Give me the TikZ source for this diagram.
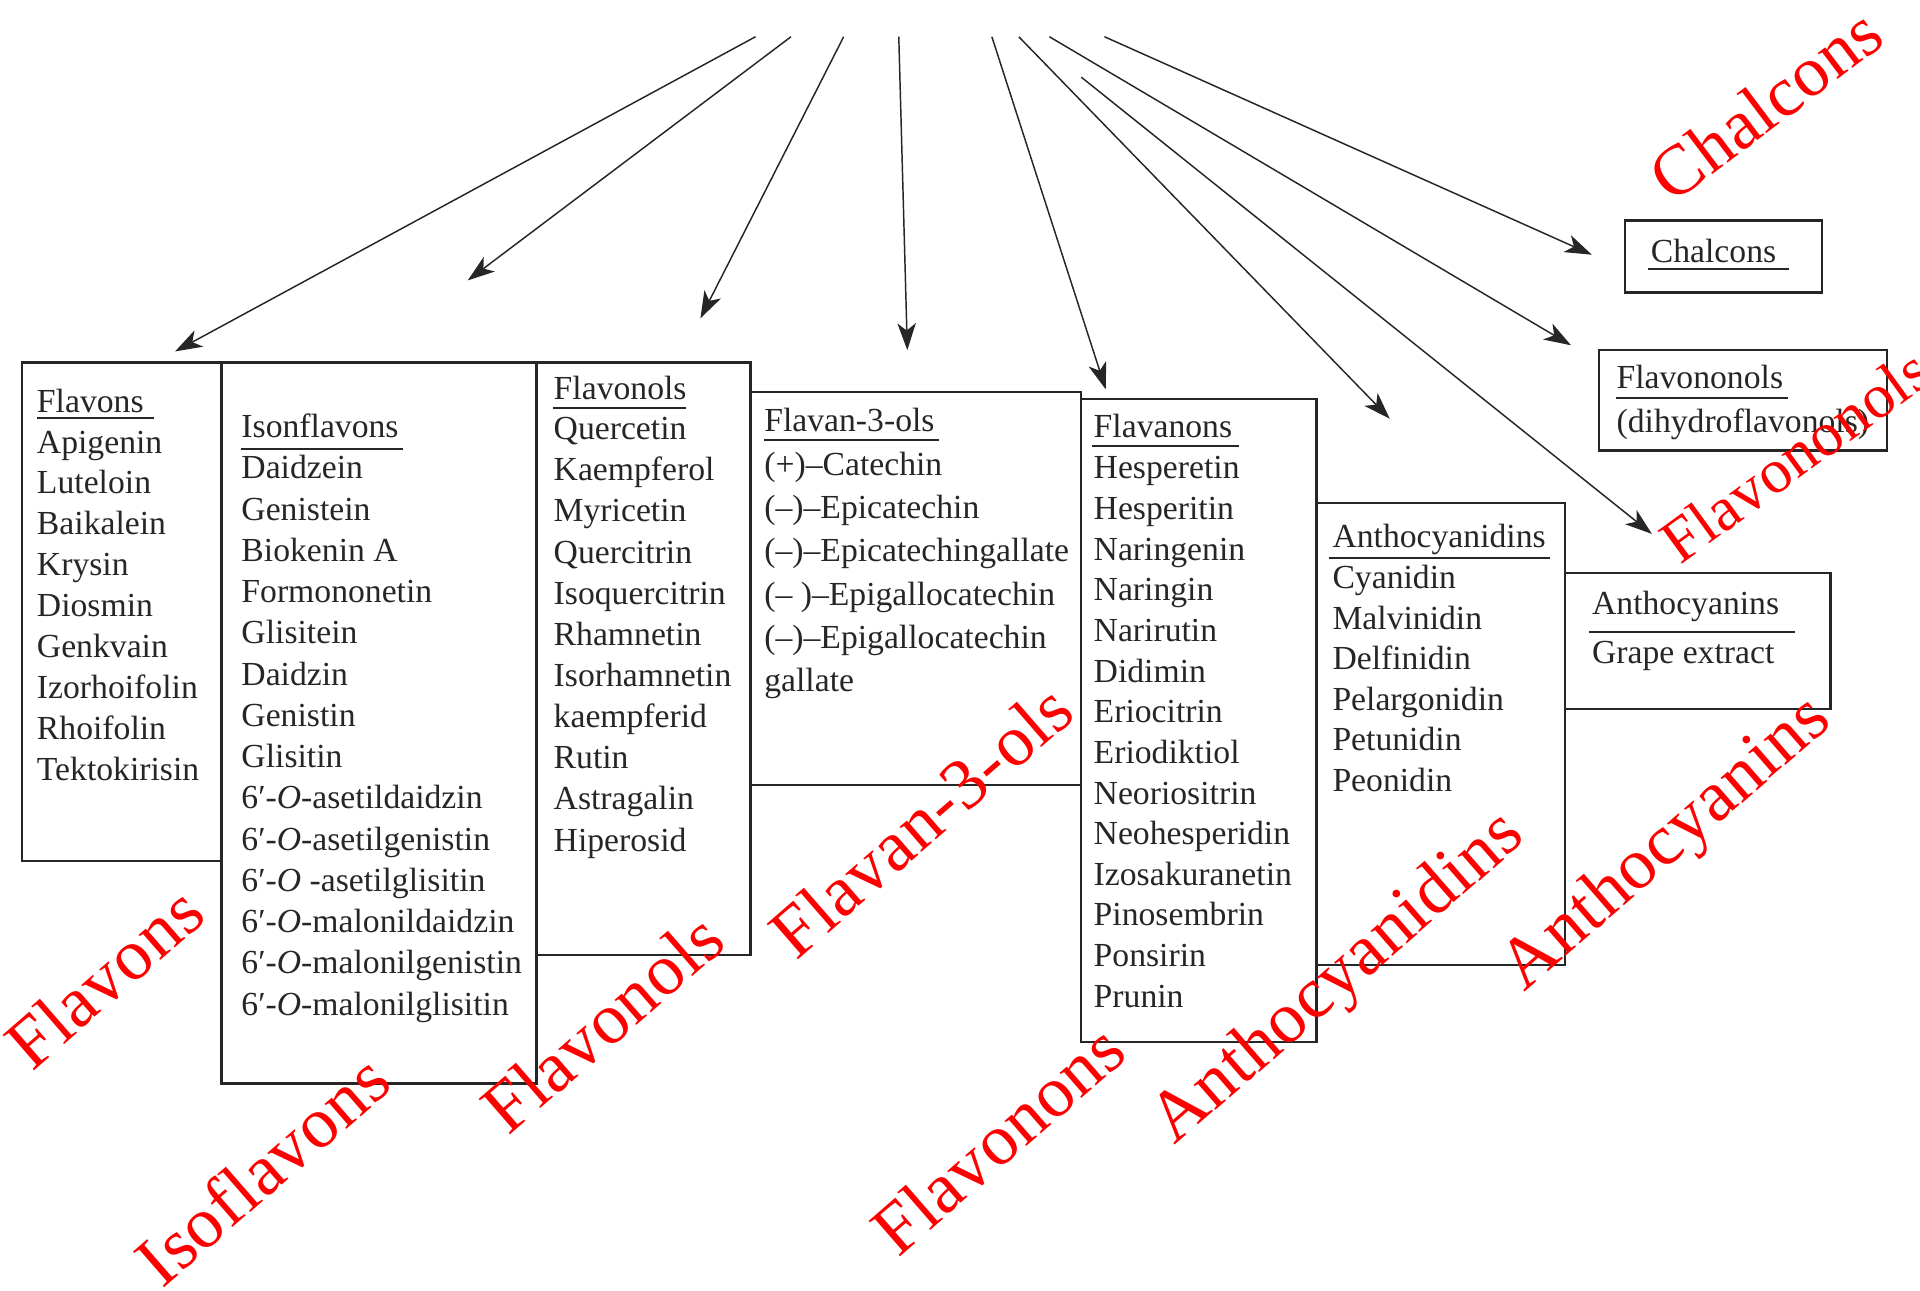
\documentclass[tikz,border=0pt]{standalone}
\usepackage{fontspec}
\setmainfont{Liberation Serif}
\newfontfamily\redfont[LetterSpace=1]{Liberation Serif}
\usetikzlibrary{arrows.meta}
\begin{document}
\begin{tikzpicture}[x=1pt,y=-1pt,
  box/.style={draw=black!85, line width=2pt, inner sep=0pt, anchor=north west},
  item/.style={anchor=base west, inner sep=0pt, text=black!85, font=\fontsize{27.5}{33}\selectfont},
  uline/.style={draw=black!85, line width=1.6pt},
  arr/.style={draw=black!85, line width=1.2pt, -{Stealth[length=22pt,width=15pt,inset=6pt]}},
  lbl/.style={text=red, font=\redfont\fontsize{59}{59}\selectfont, rotate=41, inner sep=0pt},
]
\useasboundingbox (0,0) rectangle (1568,1054);

% boxes
\node[box, minimum width=163pt, minimum height=407pt] (bflavons) at (17,295) {};
\node[box, minimum width=257pt, minimum height=589pt] (bisofl) at (180,295) {};
\node[box, minimum width=175pt, minimum height=484pt] (bflavonols) at (437,295) {};
\node[box, minimum width=270pt, minimum height=321pt] (bflavan) at (612,319) {};
\node[box, minimum width=192pt, minimum height=525pt] (bflavanons) at (882,325) {};
\node[box, minimum width=203pt, minimum height=377pt] (banthod) at (1074,410) {};
\node[box, minimum width=217pt, minimum height=111pt] (bantho) at (1277,467) {};
\node[box, minimum width=161pt, minimum height=59pt] (bchalc) at (1326,179) {};
\node[box, minimum width=235pt, minimum height=82pt] (bflvnl) at (1305,285) {};

% Flavons
\node[item] (tflavons) at (30,337) {Flavons};
\draw[uline] (30,341) -- (126,341);
\foreach \t [count=\i from 0] in {Apigenin,Luteloin,Baikalein,Krysin,Diosmin,Genkvain,Izorhoifolin,Rhoifolin,Tektokirisin}
  \node[item] (flv\i) at (30,{370+33.4*\i}) {\t};

% Isoflavons
\node[item] (tisofl) at (197,357) {Isonflavons};
\draw[uline] (197,367) -- (329,367);
\foreach \t [count=\i from 0] in {Daidzein,Genistein,Biokenin A,Formononetin,Glisitein,Daidzin,Genistin,Glisitin,
  6′-\textit{O}-asetildaidzin,6′-\textit{O}-asetilgenistin,6′-\textit{O} -asetilglisitin,6′-\textit{O}-malonildaidzin,6′-\textit{O}-malonilgenistin,6′-\textit{O}-malonilglisitin}
  \node[item] (iso\i) at (197,{391+33.7*\i}) {\t};

% Flavonols
\node[item] (tflavonols) at (452,326) {Flavonols};
\draw[uline] (452,333) -- (560,333);
\foreach \t [count=\i from 0] in {Quercetin,Kaempferol,Myricetin,Quercitrin,Isoquercitrin,Rhamnetin,Isorhamnetin,kaempferid,Rutin,Astragalin,Hiperosid}
  \node[item] (fnl\i) at (452,{359+33.6*\i}) {\t};

% Flavan-3-ols
\node[item] (tflavan) at (624,352) {Flavan-3-ols};
\draw[uline] (624,359) -- (767,359);
\foreach \t [count=\i from 0] in {(+)–Catechin,(–)–Epicatechin,(–)–Epicatechingallate,(– )–Epigallocatechin,(–)–Epigallocatechin,gallate}
  \node[item] (fan\i) at (624,{388+35.4*\i}) {\t};

% Flavanons
\node[item] (tflavanons) at (893,357) {Flavanons};
\draw[uline] (892,364) -- (1012,364);
\foreach \t [count=\i from 0] in {Hesperetin,Hesperitin,Naringenin,Naringin,Narirutin,Didimin,Eriocitrin,Eriodiktiol,Neoriositrin,Neohesperidin,Izosakuranetin,Pinosembrin,Ponsirin,Prunin}
  \node[item] (fns\i) at (893,{391+33.2*\i}) {\t};

% Anthocyanidins
\node[item] (tanthod) at (1088,447) {Anthocyanidins};
\draw[uline] (1085,456) -- (1266,456);
\foreach \t [count=\i from 0] in {Cyanidin,Malvinidin,Delfinidin,Pelargonidin,Petunidin,Peonidin}
  \node[item] (acd\i) at (1088,{481+33*\i}) {\t};

% Anthocyanins
\node[item] (tantho) at (1300,502) {Anthocyanins};
\draw[uline] (1298,516) -- (1466,516);
\node[item] (grape) at (1300,542) {Grape extract};

% Chalcons
\node[item] (tchalc) at (1348,214) {Chalcons};
\draw[uline] (1346,220) -- (1461,220);

% Flavononols
\node[item] (tflvnl) at (1320,317) {Flavononols};
\draw[uline] (1320,325) -- (1460,325);
\node[item] (dihyd) at (1320,353) {(dihydroflavonols)};

% arrows
\coordinate (s1) at (617,30);  \coordinate (e1) at (143,287);
\coordinate (s2) at (646,30);  \coordinate (e2) at (382,229);
\coordinate (s3) at (689,30);  \coordinate (e3) at (572,260);
\coordinate (s4) at (734,30);  \coordinate (e4) at (741,286);
\coordinate (s5) at (810,30);  \coordinate (e5) at (903,318);
\coordinate (s6) at (832,30);  \coordinate (e6) at (1135,342);
\coordinate (s7) at (857,30);  \coordinate (e7) at (1283,282);
\coordinate (s8) at (883,63);  \coordinate (e8) at (1349,436);
\coordinate (s9) at (902,30);  \coordinate (e9) at (1300,208);
\foreach \k in {1,...,9} \draw[arr] (s\k) -- (e\k);

% red labels
\node[lbl] (lflavons) at (85,798) {Flavons};
\node[lbl] (lisofl) at (214,955) {Isoflavons};
\node[lbl] (lflavonols) at (492,835) {Flavonols};
\node[lbl] (lflavan) at (752,670) {Flavan-3-ols};
\node[lbl] (lflavonons) at (815,930) {Flavonons};
\node[lbl] (lanthod) at (1094,800) {Anthocyanidins};
\node[lbl] (lantho) at (1362,690) {Anthocyanins};
\node[lbl, rotate=-5, font=\redfont\fontsize{51}{51}\selectfont] (lflvnl) at (1466,372) {Flavononols};
\node[lbl, rotate=-4, font=\redfont\fontsize{58}{58}\selectfont] (lchalc) at (1442,85) {Chalcons};
\end{tikzpicture}
\end{document}
